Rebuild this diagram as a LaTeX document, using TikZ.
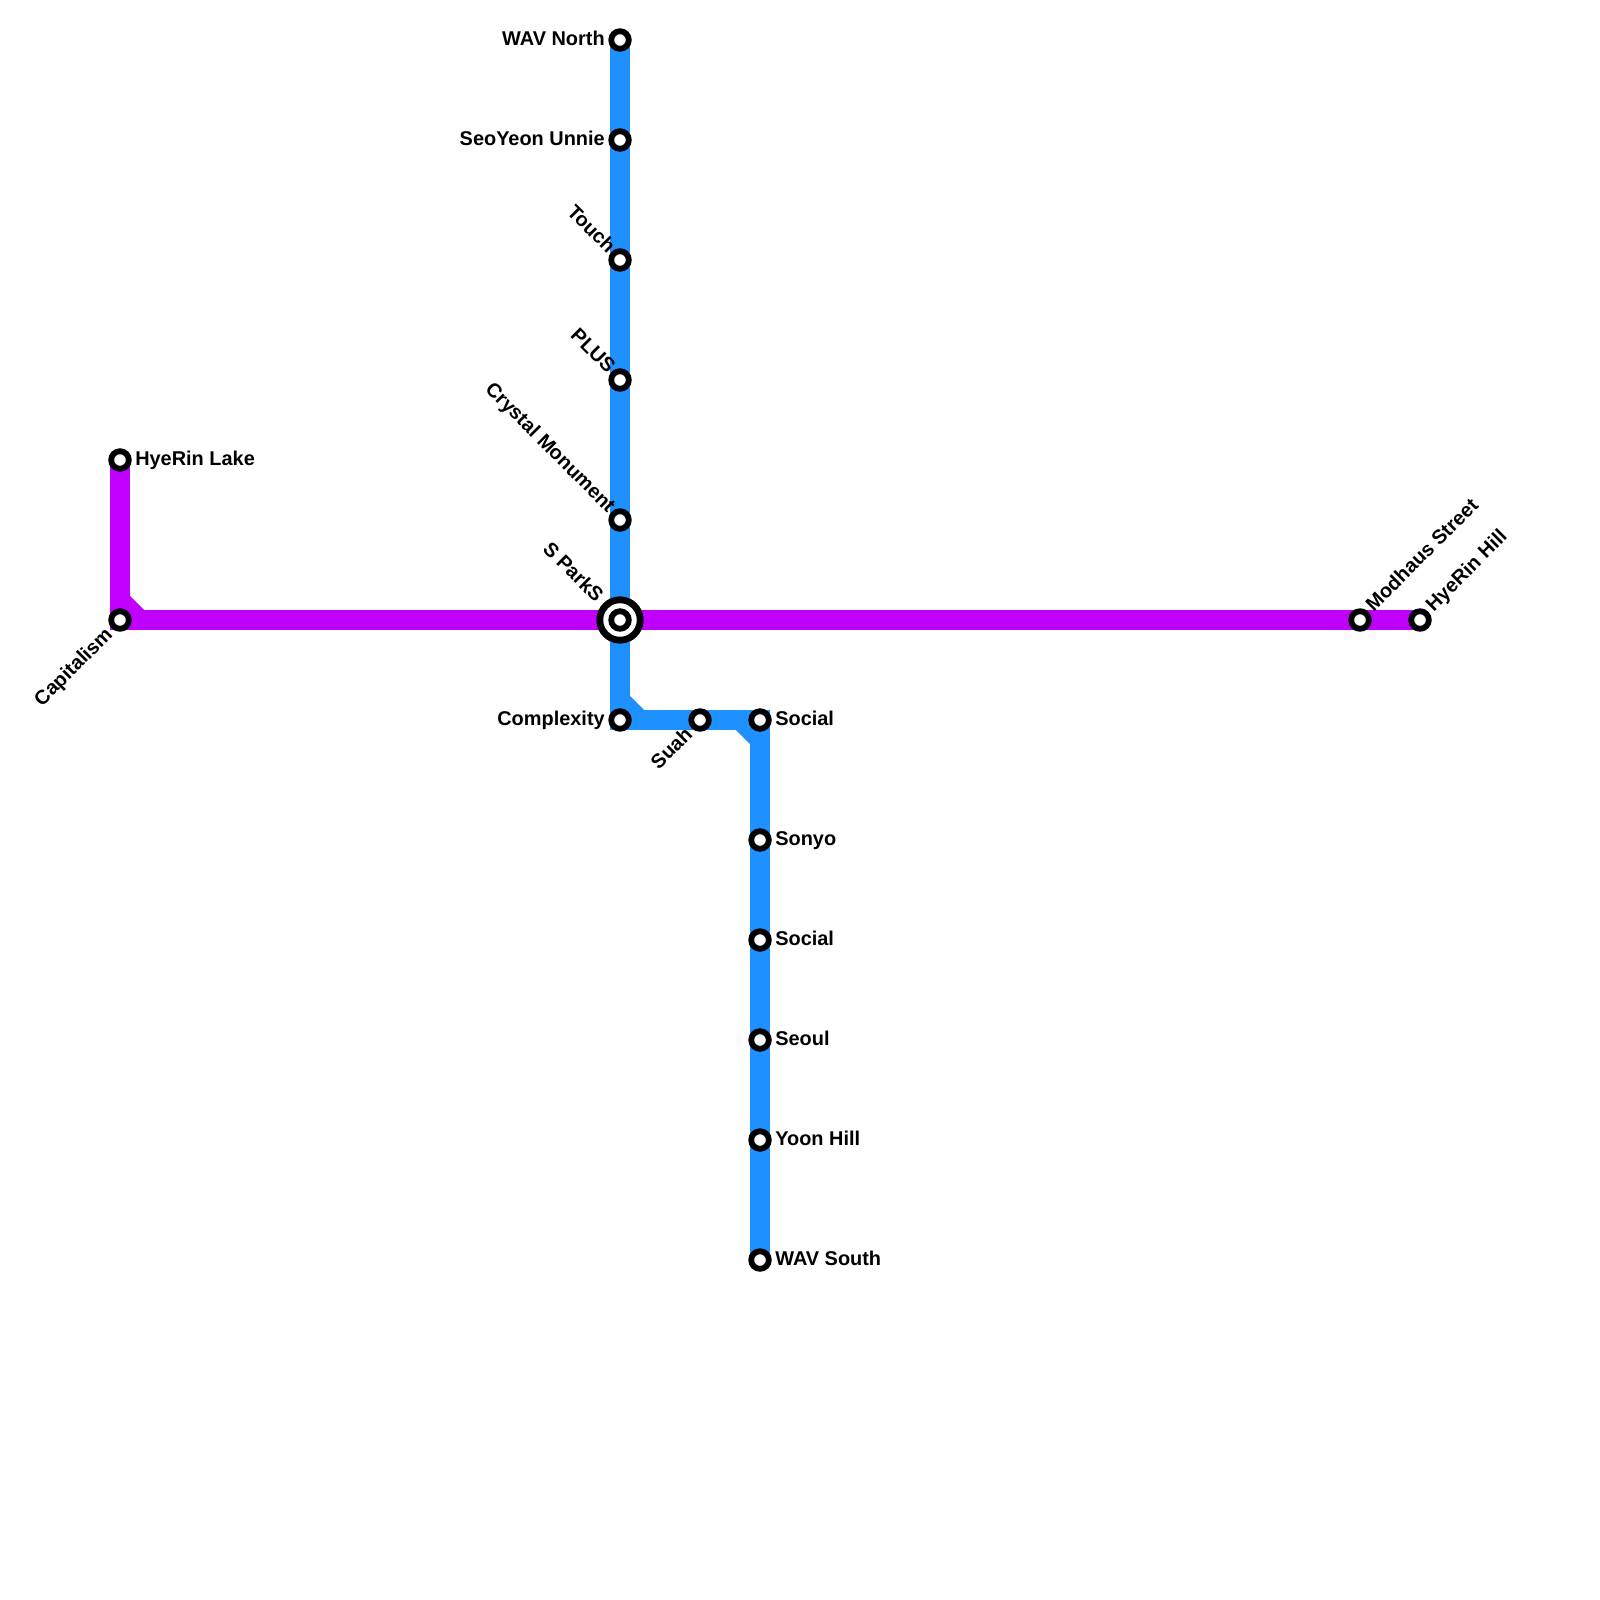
\documentclass[tikz,border=0pt]{standalone}
\usepackage{fontspec}
\setmainfont{Liberation Sans}
\definecolor{BlueLine}{HTML}{1E90FF}
\definecolor{PurpleLine}{HTML}{BF00FF}
\begin{document}
\begin{tikzpicture}[
      x=0.25mm,y=-0.25mm,
      metroline/.style={line width=5mm,miter limit=10},
      stop/.style={circle,draw=black,fill=white,line width=1.45mm,minimum size=4.4mm,inner sep=0pt},
      hub/.style={circle,draw=black,fill=white,line width=1.7mm,minimum size=10.1mm,inner sep=0pt},
      stoplabel/.style={font=\fontsize{14.17}{17}\selectfont\bfseries,text height=10.2pt,text depth=3pt,inner sep=0pt}
    ]
      \useasboundingbox (0,0) rectangle (1600,1600);
      % bends
      \coordinate (capitalismturn) at (120,600);
      \coordinate (capitalismjoin) at (140,620);
      \coordinate (complexityturn) at (620,700);
      \coordinate (complexityjoin) at (640,720);
      \coordinate (socialturn) at (740,720);
      \coordinate (socialjoin) at (760,740);
      % lines
      \draw[metroline,PurpleLine] (120,460) -- (120,620) -- (1420,620);
      \draw[metroline,PurpleLine] (capitalismturn) -- (capitalismjoin);
      \draw[metroline,BlueLine] (620,40) -- (620,720) -- (760,720) -- (760,1260);
      \draw[metroline,BlueLine] (complexityturn) -- (complexityjoin);
      \draw[metroline,BlueLine] (socialturn) -- (socialjoin);
      % stops on the blue line
      \node[stop] (wavnorth) at (620,40) {};
      \node[stop] (seoyeon) at (620,140) {};
      \node[stop] (touch) at (620,260) {};
      \node[stop] (plus) at (620,380) {};
      \node[stop] (crystal) at (620,520) {};
      \node[hub] (sparks) at (620,620) {};
      \node[stop] (sparksinner) at (620,620) {};
      \node[stop] (complexity) at (620,720) {};
      \node[stop] (suah) at (700,720) {};
      \node[stop] (socialone) at (760,720) {};
      \node[stop] (sonyo) at (760,840) {};
      \node[stop] (socialtwo) at (760,940) {};
      \node[stop] (seoul) at (760,1040) {};
      \node[stop] (yoonhill) at (760,1140) {};
      \node[stop] (wavsouth) at (760,1260) {};
      % stops on the purple line
      \node[stop] (hyerinlake) at (120,460) {};
      \node[stop] (capitalism) at (120,620) {};
      \node[stop] (modhaus) at (1360,620) {};
      \node[stop] (hyerinhill) at (1420,620) {};
      % labels
      \node[stoplabel,anchor=east] (wavnorthname) at (605,40) {WAV North};
      \node[stoplabel,anchor=east] (seoyeonname) at (605,140) {SeoYeon Unnie};
      \node[stoplabel,anchor=east,rotate=-45] (touchname) at (611,251) {Touch};
      \node[stoplabel,anchor=east,rotate=-45] (plusname) at (611,371) {PLUS};
      \node[stoplabel,anchor=east,rotate=-45] (crystalname) at (611,510) {Crystal Monument};
      \node[stoplabel,anchor=east,rotate=-45] (sparksname) at (599,600) {S ParkS};
      \node[stoplabel,anchor=east] (complexityname) at (605,720) {Complexity};
      \node[stoplabel,anchor=east,rotate=45] (suahname) at (690,732) {Suah};
      \node[stoplabel,anchor=west] (socialonename) at (775,720) {Social};
      \node[stoplabel,anchor=west] (sonyoname) at (775,840) {Sonyo};
      \node[stoplabel,anchor=west] (socialtwoname) at (775,940) {Social};
      \node[stoplabel,anchor=west] (seoulname) at (775,1040) {Seoul};
      \node[stoplabel,anchor=west] (yoonhillname) at (775,1140) {Yoon Hill};
      \node[stoplabel,anchor=west] (wavsouthname) at (775,1260) {WAV South};
      \node[stoplabel,anchor=west] (hyerinlakename) at (135,460) {HyeRin Lake};
      \node[stoplabel,anchor=east,rotate=45] (capitalismname) at (110,632) {Capitalism};
      \node[stoplabel,anchor=west,rotate=45] (modhausname) at (1370,609) {Modhaus Street};
      \node[stoplabel,anchor=west,rotate=45] (hyerinhillname) at (1430,609) {HyeRin Hill};
    \end{tikzpicture}
\end{document}
